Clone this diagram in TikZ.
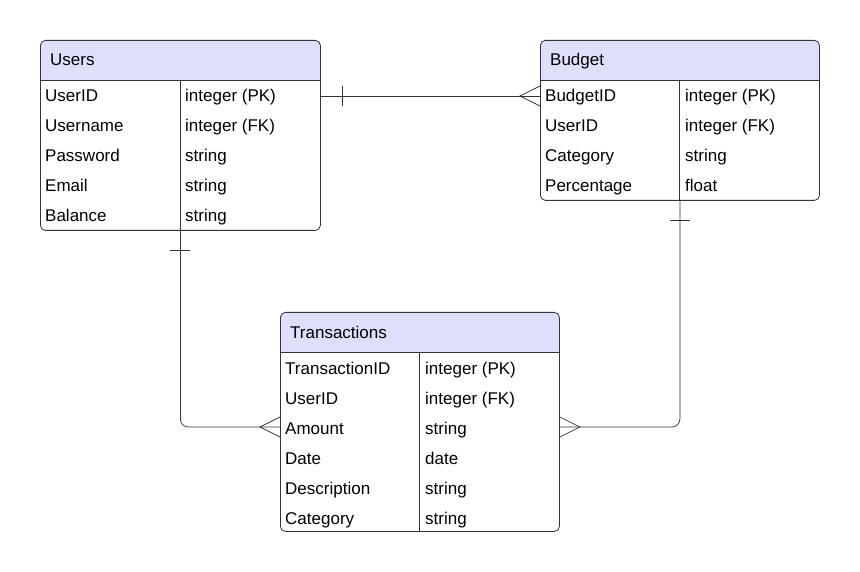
\documentclass[tikz,border=0pt]{standalone}
\usepackage{fontspec}
\setmainfont{Liberation Sans}
\usetikzlibrary{positioning}
\definecolor{headfill}{RGB}{222,222,253}
\definecolor{edgegray}{RGB}{51,51,51}

\tikzset{
  tblbox/.style={draw=edgegray, line width=0.8pt, rounded corners=5pt, anchor=north west, inner sep=0pt},
  tblline/.style={draw=edgegray, line width=0.8pt},
  tbltitle/.style={anchor=base west, inner sep=0pt, font=\fontsize{17}{20}\selectfont},
  cell/.style={anchor=base west, inner sep=0pt, font=\fontsize{17}{20}\selectfont},
  rel/.style={draw=edgegray, line width=0.7pt},
}

\begin{document}
\begin{tikzpicture}[x=1pt,y=-1pt]
\useasboundingbox (0,0) rectangle (860,572);
% Users
\begin{scope}[shift={(40,40)}]
\fill[headfill, rounded corners=5pt] (0,0) rectangle (280,40);
\fill[headfill] (0,20) rectangle (280,40);
\draw[tblline] (0,40) -- (280,40);
\draw[tblline] (140,40) -- (140,190);
\node[tblbox, minimum width=280pt, minimum height=190pt] (users) at (0,0) {};
\node[tbltitle] (usersT) at (10,26) {Users};
\node[cell] (uid) at (5,62) {UserID};
\node[cell] at (145,62) {integer (PK)};
\node[cell] (uname) at (5,92) {Username};
\node[cell] at (145,92) {integer (FK)};
\node[cell] (upass) at (5,122) {Password};
\node[cell] at (145,122) {string};
\node[cell] (umail) at (5,152) {Email};
\node[cell] at (145,152) {string};
\node[cell] (ubal) at (5,182) {Balance};
\node[cell] at (145,182) {string};
\end{scope}
% Budget
\begin{scope}[shift={(540,40)}]
\fill[headfill, rounded corners=5pt] (0,0) rectangle (279,40);
\fill[headfill] (0,20) rectangle (279,40);
\draw[tblline] (0,40) -- (279,40);
\draw[tblline] (139.5,40) -- (139.5,160);
\node[tblbox, minimum width=279pt, minimum height=160pt] (budget) at (0,0) {};
\node[tbltitle] (budgetT) at (10,26) {Budget};
\node[cell] (bid) at (5,62) {BudgetID};
\node[cell] at (145,62) {integer (PK)};
\node[cell] (buser) at (5,92) {UserID};
\node[cell] at (145,92) {integer (FK)};
\node[cell] (bcat) at (5,122) {Category};
\node[cell] at (145,122) {string};
\node[cell] (bpct) at (5,152) {Percentage};
\node[cell] at (145,152) {float};
\end{scope}
% Transactions
\begin{scope}[shift={(280,312)}]
\fill[headfill, rounded corners=5pt] (0,0) rectangle (279,40);
\fill[headfill] (0,20) rectangle (279,40);
\draw[tblline] (0,40) -- (279,40);
\draw[tblline] (139.5,40) -- (139.5,219);
\node[tblbox, minimum width=279pt, minimum height=219pt] (trans) at (0,0) {};
\node[tbltitle] (transT) at (10,26) {Transactions};
\node[cell] (tid) at (5,62) {TransactionID};
\node[cell] at (145,62) {integer (PK)};
\node[cell] (tuser) at (5,92) {UserID};
\node[cell] at (145,92) {integer (FK)};
\node[cell] (tamt) at (5,122) {Amount};
\node[cell] at (145,122) {string};
\node[cell] (tdate) at (5,152) {Date};
\node[cell] at (145,152) {date};
\node[cell] (tdesc) at (5,182) {Description};
\node[cell] at (145,182) {string};
\node[cell] (tcat) at (5,212) {Category};
\node[cell] at (145,212) {string};
\end{scope}
% relations
\coordinate (ub) at ([yshift=6pt]users.east |- uid.base);
\coordinate (bu) at ([yshift=6pt]budget.west |- uid.base);
\coordinate (tl) at ([yshift=7pt]trans.west |- tamt.base);
\coordinate (tr) at ([yshift=7pt]trans.east |- tamt.base);
\draw[rel] (ub) -- (bu);
\draw[rel] ([xshift=22pt]ub) ++(0,-10) -- ++(0,20);
\draw[rel] (bu) ++(0,-10) -- ++(-20,10) -- ++(20,10);
\draw[rel, rounded corners=8pt] (users.south) |- (tl);
\draw[rel] (users.south) ++(-10,20) -- ++(20,0);
\draw[rel] (tl) ++(0,-10) -- ++(-20,10) -- ++(20,10);
\draw[rel, rounded corners=8pt] (budget.south) |- (tr);
\draw[rel] (budget.south) ++(-10,20) -- ++(20,0);
\draw[rel] (tr) ++(0,-10) -- ++(20,10) -- ++(-20,10);
\end{tikzpicture}
\end{document}
